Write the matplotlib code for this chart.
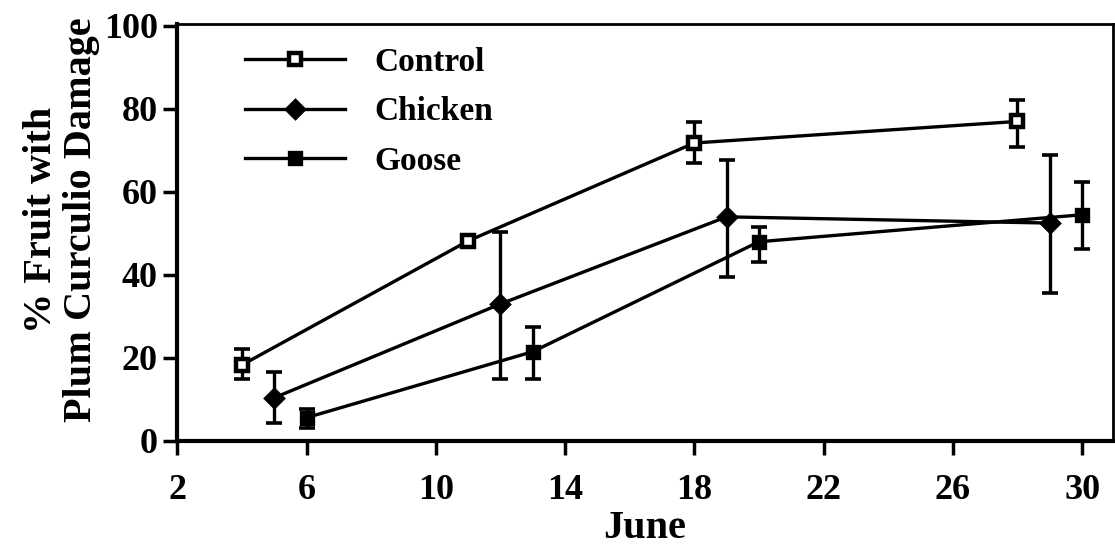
import matplotlib.pyplot as plt

# sampling dates (June) and % fruit damaged, with error bar low/high ends
control_day = [4, 11, 18, 28]
control_pct = [18.3, 48.2, 71.8, 77.0]
control_lo = [14.9, 47.5, 67.0, 70.8]
control_hi = [22.2, 49.0, 76.9, 82.1]

chicken_day = [5, 12, 19, 29]
chicken_pct = [10.4, 33.0, 54.0, 52.5]
chicken_lo = [4.3, 14.9, 39.5, 35.7]
chicken_hi = [16.6, 50.4, 67.7, 68.9]

goose_day = [6, 13, 20, 30]
goose_pct = [5.6, 21.5, 48.0, 54.5]
goose_lo = [3.2, 14.9, 43.1, 46.3]
goose_hi = [7.6, 27.5, 51.6, 62.4]

xticks = [2, 6, 10, 14, 18, 22, 26, 30]
yticks = [0, 20, 40, 60, 80, 100]

plt.rcParams['font.family'] = ['Liberation Serif', 'DejaVu Serif']
plt.rcParams['font.weight'] = 'bold'

fig = plt.figure(figsize=(11.15, 5.56), dpi=100)
ax = fig.add_axes([0.159, 0.207, 0.839, 0.750])

series = [
    ('Control', control_day, control_pct, control_lo, control_hi, 's', 'white'),
    ('Chicken', chicken_day, chicken_pct, chicken_lo, chicken_hi, 'D', 'black'),
    ('Goose', goose_day, goose_pct, goose_lo, goose_hi, 's', 'black'),
]

for name, x, y, lo, hi, mk, fc in series:
    err = [[v - l for v, l in zip(y, lo)], [h - v for v, h in zip(y, hi)]]
    ax.errorbar(x, y, yerr=err, fmt='none', ecolor='black', elinewidth=2.4,
                capsize=5.5, capthick=2.6, zorder=2)
    ms = 9.5 if mk == 'D' else 9
    ax.plot(x, y, color='black', lw=2.4, marker=mk, ms=ms, mfc=fc,
            mec='black', mew=3.2 if fc == 'white' else 2.4,
            label=name, zorder=3)

ax.set_xlim(2, 30.95)
ax.set_ylim(0, 100.5)
ax.set_xticks(xticks)
ax.set_yticks(yticks)
ax.tick_params(axis='both', direction='out', length=10, width=2.5,
               labelsize=26)
ax.tick_params(axis='x', pad=14)
ax.tick_params(axis='y', pad=4)
for lab in ax.get_xticklabels() + ax.get_yticklabels():
    lab.set_fontweight('bold')

for side in ['left', 'bottom']:
    ax.spines[side].set_linewidth(3)
for side in ['top', 'right']:
    ax.spines[side].set_linewidth(2)

ax.set_xlabel('June', fontsize=29, fontweight='bold', labelpad=2)
ax.set_ylabel('% Fruit with\nPlum Curculio Damage', fontsize=29,
              fontweight='bold', linespacing=1.08)
ax.yaxis.set_label_coords(-0.083, 0.53)

ax.legend(loc='upper left', bbox_to_anchor=(0.04, 1.017), frameon=False,
          handlelength=3.0, handletextpad=0.9, labelspacing=0.56,
          prop={'weight': 'bold', 'size': 24})

fig.savefig('out.png', dpi=100)
